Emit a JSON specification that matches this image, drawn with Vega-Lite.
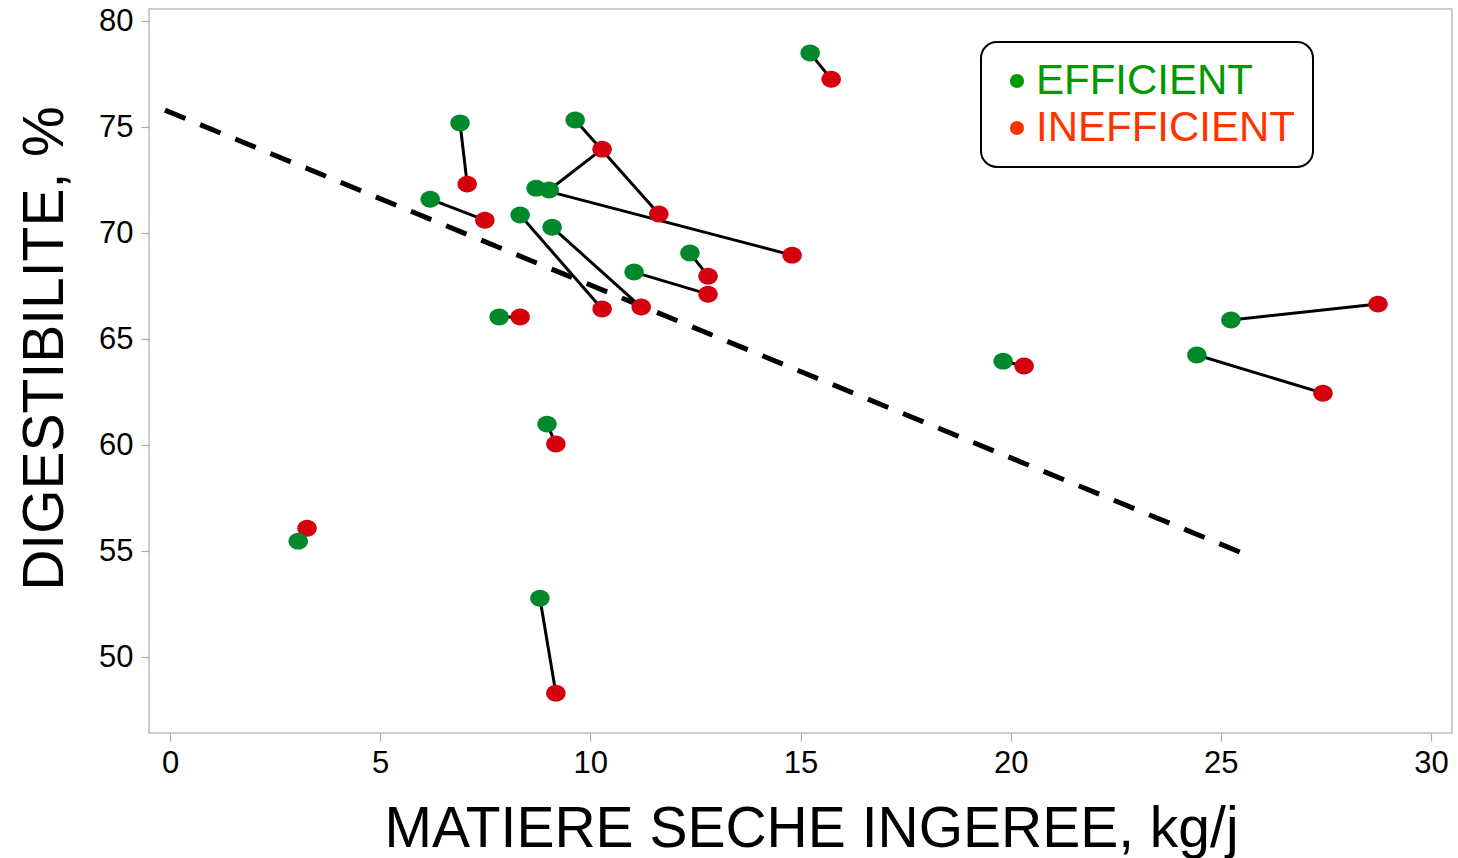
{
  "$schema": "https://vega.github.io/schema/vega-lite/v6.json",
  "width": 1303,
  "height": 724,
  "autosize": {"type": "none"},
  "padding": {"left": 149, "top": 9, "right": 6, "bottom": 125},
  "background": "white",
  "config": {
    "font": "Liberation Sans",
    "view": {"stroke": "#BDBDBD", "strokeWidth": 1.5},
    "legend": {"strokeWidth": 2},
    "axis": {"grid": false, "domain": false, "tickColor": "#AAAAAA", "tickSize": 8, "tickWidth": 1.2,
      "labelFont": "Liberation Sans", "labelFontSize": 31, "labelColor": "black",
      "titleFont": "Liberation Sans", "titleFontSize": 57, "titleFontWeight": "normal", "titleColor": "black"}
  },
  "datasets": {
    "pts": [
      {"pair": 1, "grp": "EFFICIENT", "x": 15.23, "y": 78.49},
      {"pair": 1, "grp": "INEFFICIENT", "x": 15.73, "y": 77.26},
      {"pair": 2, "grp": "EFFICIENT", "x": 9.64, "y": 75.33},
      {"pair": 2, "grp": "INEFFICIENT", "x": 11.63, "y": 70.90},
      {"pair": 3, "grp": "EFFICIENT", "x": 6.90, "y": 75.19},
      {"pair": 3, "grp": "INEFFICIENT", "x": 7.07, "y": 72.31},
      {"pair": 4, "grp": "EFFICIENT", "x": 8.71, "y": 72.12},
      {"pair": 4, "grp": "INEFFICIENT", "x": 14.80, "y": 68.96},
      {"pair": 5, "grp": "EFFICIENT", "x": 9.02, "y": 72.03},
      {"pair": 5, "grp": "INEFFICIENT", "x": 10.28, "y": 73.96},
      {"pair": 6, "grp": "EFFICIENT", "x": 6.19, "y": 71.60},
      {"pair": 6, "grp": "INEFFICIENT", "x": 7.49, "y": 70.61},
      {"pair": 7, "grp": "EFFICIENT", "x": 8.33, "y": 70.85},
      {"pair": 7, "grp": "INEFFICIENT", "x": 10.28, "y": 66.42},
      {"pair": 8, "grp": "EFFICIENT", "x": 9.09, "y": 70.28},
      {"pair": 8, "grp": "INEFFICIENT", "x": 11.21, "y": 66.51},
      {"pair": 9, "grp": "EFFICIENT", "x": 12.37, "y": 69.06},
      {"pair": 9, "grp": "INEFFICIENT", "x": 12.80, "y": 67.97},
      {"pair": 10, "grp": "EFFICIENT", "x": 11.04, "y": 68.16},
      {"pair": 10, "grp": "INEFFICIENT", "x": 12.80, "y": 67.12},
      {"pair": 11, "grp": "EFFICIENT", "x": 7.83, "y": 66.04},
      {"pair": 11, "grp": "INEFFICIENT", "x": 8.33, "y": 66.04},
      {"pair": 12, "grp": "EFFICIENT", "x": 19.82, "y": 63.96},
      {"pair": 12, "grp": "INEFFICIENT", "x": 20.32, "y": 63.73},
      {"pair": 13, "grp": "EFFICIENT", "x": 25.24, "y": 65.90},
      {"pair": 13, "grp": "INEFFICIENT", "x": 28.74, "y": 66.65},
      {"pair": 14, "grp": "EFFICIENT", "x": 24.43, "y": 64.25},
      {"pair": 14, "grp": "INEFFICIENT", "x": 27.43, "y": 62.45},
      {"pair": 15, "grp": "EFFICIENT", "x": 8.97, "y": 60.99},
      {"pair": 15, "grp": "INEFFICIENT", "x": 9.18, "y": 60.05},
      {"pair": 16, "grp": "EFFICIENT", "x": 3.05, "y": 55.47},
      {"pair": 16, "grp": "INEFFICIENT", "x": 3.26, "y": 56.08},
      {"pair": 17, "grp": "EFFICIENT", "x": 8.80, "y": 52.78},
      {"pair": 17, "grp": "INEFFICIENT", "x": 9.18, "y": 48.30}
    ],
    "reg": [
      {"x": -0.12, "y": 75.80},
      {"x": 25.46, "y": 54.95}
    ]
  },
  "layer": [
    {
      "data": {"name": "pts"},
      "mark": {"type": "point", "filled": true, "opacity": 1, "shape": "M-1,0A1,0.8,0,1,0,1,0A1,0.8,0,1,0,-1,0Z", "size": 300},
      "encoding": {
        "x": {"field": "x", "type": "quantitative", "scale": {"domain": [-0.5, 30.5], "nice": false, "zero": false},
          "axis": {"values": [0, 5, 10, 15, 20, 25, 30], "title": "MATIERE SECHE INGEREE, kg/j", "labelPadding": 7, "titleX": 662, "titleY": 113, "titleBaseline": "alphabetic"}},
        "y": {"field": "y", "type": "quantitative", "scale": {"domain": [46.42, 80.57], "nice": false, "zero": false},
          "axis": {"values": [50, 55, 60, 65, 70, 75, 80], "title": "DIGESTIBILITE, %", "labelPadding": 8, "titleX": -87, "titleY": 339, "titleAngle": 270, "titleBaseline": "alphabetic"}},
        "color": {"field": "grp", "type": "nominal",
          "scale": {"domain": ["EFFICIENT", "INEFFICIENT"], "range": ["#009900", "#FF3300"]},
          "legend": {
            "title": null, "orient": "none", "legendX": 832, "legendY": 33,
            "symbolType": "circle", "symbolSize": 200, "symbolStrokeWidth": 0, "symbolOffset": -3,
            "labelFont": "Liberation Sans", "labelFontSize": 42, "labelOffset": -2, "labelLimit": 500,
            "labelColor": {"expr": "datum.value === 'EFFICIENT' ? '#009900' : '#FF3300'"},
            "rowPadding": 5, "padding": 18, "strokeColor": "black", "cornerRadius": 16, "fillColor": "white",
            "labelExpr": "datum.label + '\u00a0\u00a0'"
          }
        }
      }
    },
    {
      "data": {"name": "reg"},
      "mark": {"type": "line", "color": "black", "strokeWidth": 5, "strokeDash": [22, 16]},
      "encoding": {
        "x": {"field": "x", "type": "quantitative"},
        "y": {"field": "y", "type": "quantitative"}
      }
    },
    {
      "data": {"name": "pts"},
      "mark": {"type": "line", "color": "black", "strokeWidth": 3},
      "encoding": {
        "x": {"field": "x", "type": "quantitative"},
        "y": {"field": "y", "type": "quantitative"},
        "detail": {"field": "pair", "type": "nominal"}
      }
    },
    {
      "data": {"name": "pts"},
      "mark": {"type": "point", "filled": true, "opacity": 1, "shape": "M-1,0A1,0.87,0,1,0,1,0A1,0.87,0,1,0,-1,0Z", "size": 380},
      "encoding": {
        "x": {"field": "x", "type": "quantitative"},
        "y": {"field": "y", "type": "quantitative"},
        "order": {"field": "grp", "type": "nominal", "sort": "descending"},
        "fill": {"field": "grp", "type": "nominal",
          "scale": {"domain": ["EFFICIENT", "INEFFICIENT"], "range": ["#00882B", "#D4000D"]},
          "legend": null}
      }
    }
  ]
}
